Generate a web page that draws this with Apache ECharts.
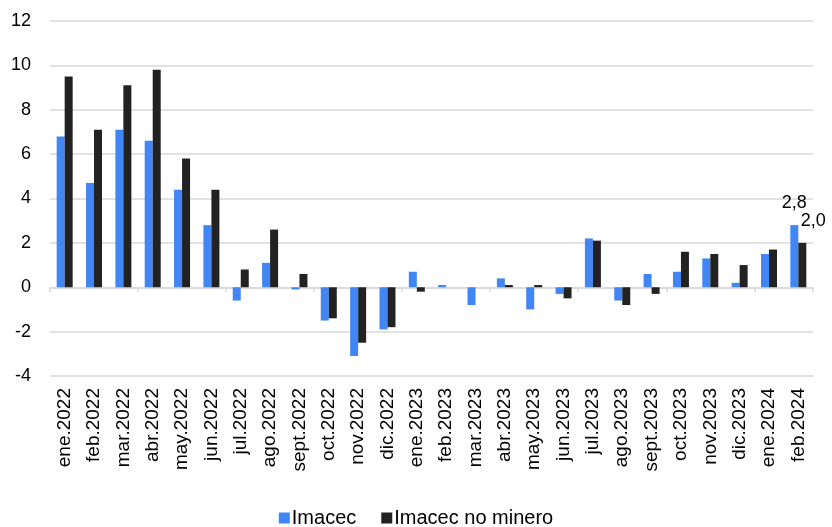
<!DOCTYPE html>
<html>
<head>
<meta charset="utf-8">
<script src="https://cdn.jsdelivr.net/npm/echarts@6/dist/echarts.min.js"></script>
<style>
html,body{margin:0;padding:0;background:#fff;}
#main{width:832px;height:527px;}
</style>
</head>
<body>
<div id="main"></div>
<script>
var meses = ["ene.2022","feb.2022","mar.2022","abr.2022","may.2022","jun.2022","jul.2022","ago.2022","sept.2022","oct.2022","nov.2022","dic.2022",
  "ene.2023","feb.2023","mar.2023","abr.2023","may.2023","jun.2023","jul.2023","ago.2023","sept.2023","oct.2023","nov.2023","dic.2023",
  "ene.2024","feb.2024"];
var imacec = [6.8,4.7,7.1,6.6,4.4,2.8,-0.6,1.1,-0.1,-1.5,-3.1,-1.9,0.7,0.1,-0.8,0.4,-1.0,-0.3,2.2,-0.6,0.6,0.7,1.3,0.2,1.5,2.8];
var noMinero = [9.5,7.1,9.1,9.8,5.8,4.4,0.8,2.6,0.6,-1.4,-2.5,-1.8,-0.2,0.0,0.0,0.1,0.1,-0.5,2.1,-0.8,-0.3,1.6,1.5,1.0,1.7,2.0];
var yTicks = {min: -4, max: 12, interval: 2};

var font = "Liberation Sans, Arial, sans-serif";

// solo la ultima barra lleva etiqueta
function conEtiqueta(arr, offset) {
  return arr.map(function (v, i) {
    if (i == arr.length - 1) {
      return {value: v, label: {show: true, position: 'top', offset: offset,
        formatter: function (p) { return p.value.toFixed(1).replace('.', ','); },
        fontFamily: font, fontSize: 18, color: '#000'}};
    }
    return v;
  });
}

var myChart = echarts.init(document.getElementById('main'));
myChart.setOption({
  animation: false,
  grid: {left: 50, right: 19, top: 21, bottom: 151},
  legend: {
    top: 508,
    left: 'center',
    padding: 0,
    itemWidth: 11,
    itemHeight: 11,
    itemGap: 25,
    icon: 'rect',
    textStyle: {fontFamily: font, fontSize: 20, lineHeight: 18, color: '#000', padding: [0, 0, 0, -3]},
    data: ['Imacec', 'Imacec no minero']
  },
  xAxis: [
    {
      type: 'category',
      data: meses,
      position: 'bottom',
      axisLine: {show: false, onZero: false},
      axisTick: {show: false},
      axisLabel: {rotate: 90, margin: 12, fontFamily: font, fontSize: 19, color: '#000'}
    },
    {
      type: 'category',
      data: meses,
      position: 'bottom',
      axisLine: {show: true, onZero: true, lineStyle: {color: '#d9d9d9', width: 1.5}},
      axisTick: {show: true, length: 5, lineStyle: {color: '#d9d9d9', width: 1.5}},
      axisLabel: {show: false}
    }
  ],
  yAxis: {
    type: 'value',
    min: yTicks.min,
    max: yTicks.max,
    interval: yTicks.interval,
    axisLine: {show: false},
    axisTick: {show: false},
    axisLabel: {margin: 19, fontFamily: font, fontSize: 18, color: '#000'},
    splitLine: {lineStyle: {color: '#d9d9d9', width: 1.5}}
  },
  series: [
    {
      name: 'Imacec',
      type: 'bar',
      xAxisIndex: 0,
      barWidth: 8,
      barGap: '0%',
      itemStyle: {color: '#4285f4'},
      data: conEtiqueta(imacec, [0, -8])
    },
    {
      name: 'Imacec no minero',
      type: 'bar',
      xAxisIndex: 0,
      barWidth: 8,
      barGap: '0%',
      itemStyle: {color: '#222222'},
      data: conEtiqueta(noMinero, [11, -8])
    }
  ]
});
</script>
</body>
</html>
